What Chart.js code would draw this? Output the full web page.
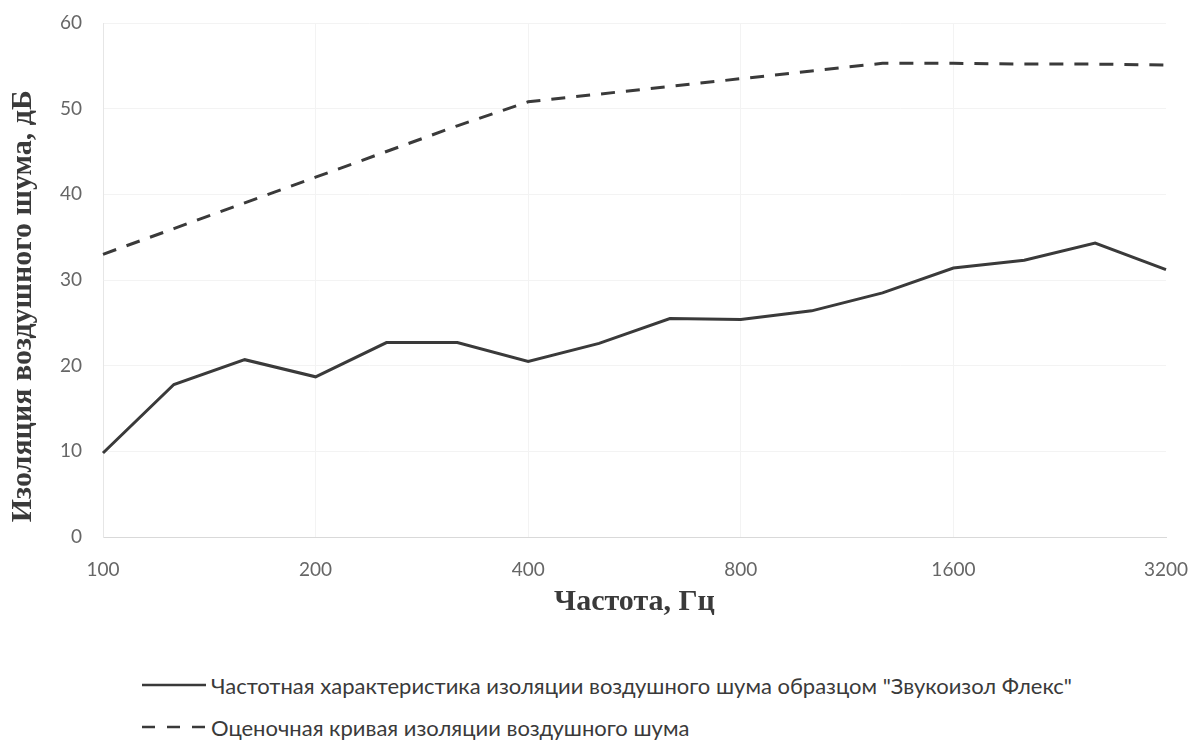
<!DOCTYPE html>
<html>
<head>
<meta charset="utf-8">
<script src="https://cdn.jsdelivr.net/npm/chart.js@4"></script>
<style>
  html, body { margin: 0; padding: 0; background: #fff; }
  #wrap { position: relative; width: 1199px; height: 740px; overflow: hidden; }
  #c { position: absolute; left: 0; top: 0; }
  .leg { position: absolute; left: 142px; height: 28px; display: flex; align-items: center;
         font-family: Lato, "Open Sans", sans-serif; font-size: 22px; color: #3a3a3a; white-space: nowrap; }
  .leg svg { margin-right: 5px; }
</style>
</head>
<body>
<div id="wrap">
  <canvas id="c" width="1199" height="624"></canvas>
  <div class="leg" style="top:671px">
    <svg width="64" height="6"><line x1="0" y1="3" x2="64" y2="3" stroke="#3a3a3a" stroke-width="2.5"/></svg>
    <span id="l1"></span>
  </div>
  <div class="leg" style="top:713px">
    <svg width="64" height="6"><line x1="0" y1="3" x2="64" y2="3" stroke="#3a3a3a" stroke-width="2.5" stroke-dasharray="13 12"/></svg>
    <span id="l2"></span>
  </div>
</div>
<script>
// Frequencies (1/3 octave bands, Hz)
const categories = ['100','125','160','200','250','315','400','500','630','800','1000','1250','1600','2000','2500','3200'];
// Tick labels shown on the x axis
const xTickLabels = ['100','','','200','','','400','','','800','','','1600','','','3200'];
// Measured airborne sound insulation
const measured = [9.8, 17.8, 20.7, 18.7, 22.7, 22.7, 20.5, 22.6, 25.5, 25.4, 26.4, 28.5, 31.4, 32.3, 34.3, 31.2];
// Rating (reference) curve
const ratingCurve = [33.0, 36.0, 39.0, 42.0, 45.0, 48.0, 50.8, 51.7, 52.6, 53.5, 54.4, 55.3, 55.3, 55.2, 55.2, 55.1];
const yTicks = [0, 10, 20, 30, 40, 50, 60];
const seriesNames = ['Частотная характеристика изоляции воздушного шума образцом "Звукоизол Флекс"',
                     'Оценочная кривая изоляции воздушного шума'];
const xTitle = 'Частота, Гц';
const yTitle = 'Изоляция воздушного шума, дБ';

document.getElementById('l1').textContent = seriesNames[0];
document.getElementById('l2').textContent = seriesNames[1];

new Chart(document.getElementById('c'), {
  type: 'line',
  data: {
    labels: categories,
    datasets: [
      { label: seriesNames[0], data: measured, borderColor: '#3a3a3a', borderWidth: 3,
        pointRadius: 0, tension: 0, fill: false },
      { label: seriesNames[1], data: ratingCurve, borderColor: '#3a3a3a', borderWidth: 3,
        borderDash: [14, 11], pointRadius: 0, tension: 0, fill: false }
    ]
  },
  options: {
    responsive: false,
    animation: false,
    layout: { padding: { left: 0, right: 33, top: 23, bottom: 0 } },
    plugins: { legend: { display: false }, tooltip: { enabled: false } },
    scales: {
      x: {
        offset: false,
        grid: { drawTicks: false,
                color: (ctx) => (ctx.index % 3 === 0 && ctx.index < categories.length - 1 ? '#f3f3f3' : 'rgba(0,0,0,0)') },
        border: { color: '#d9d9d9', width: 1 },
        ticks: { autoSkip: false, maxRotation: 0, padding: 21, color: '#666',
                 font: { family: 'Lato', size: 19 },
                 callback: (v, i) => xTickLabels[i] },
        title: { display: true, text: xTitle, color: '#3a3a3a', padding: { top: 4, bottom: 4 },
                 font: { family: 'Liberation Serif', size: 30, weight: 'bold' } },
        afterFit: (s) => { s.height = 87; s.paddingLeft = 0; s.paddingRight = 0; }
      },
      y: {
        min: 0, max: 60,
        afterBuildTicks: (s) => { s.ticks = yTicks.map(v => ({ value: v })); },
        grid: { drawTicks: false, color: '#f3f3f3' },
        border: { color: '#e6e6e6', width: 1 },
        ticks: { padding: 21, color: '#666', font: { family: 'Lato', size: 19 } },
        title: { display: true, text: yTitle + '\u00A0\u00A0\u00A0\u00A0\u00A0\u00A0\u00A0', color: '#3a3a3a',
                 padding: { top: 5, bottom: 4 },
                 font: { family: 'Liberation Serif', size: 30, weight: 'bold' } },
        afterFit: (s) => { s.width = 103; s.paddingTop = 0; s.paddingBottom = 0; }
      }
    }
  }
});
</script>
</body>
</html>
